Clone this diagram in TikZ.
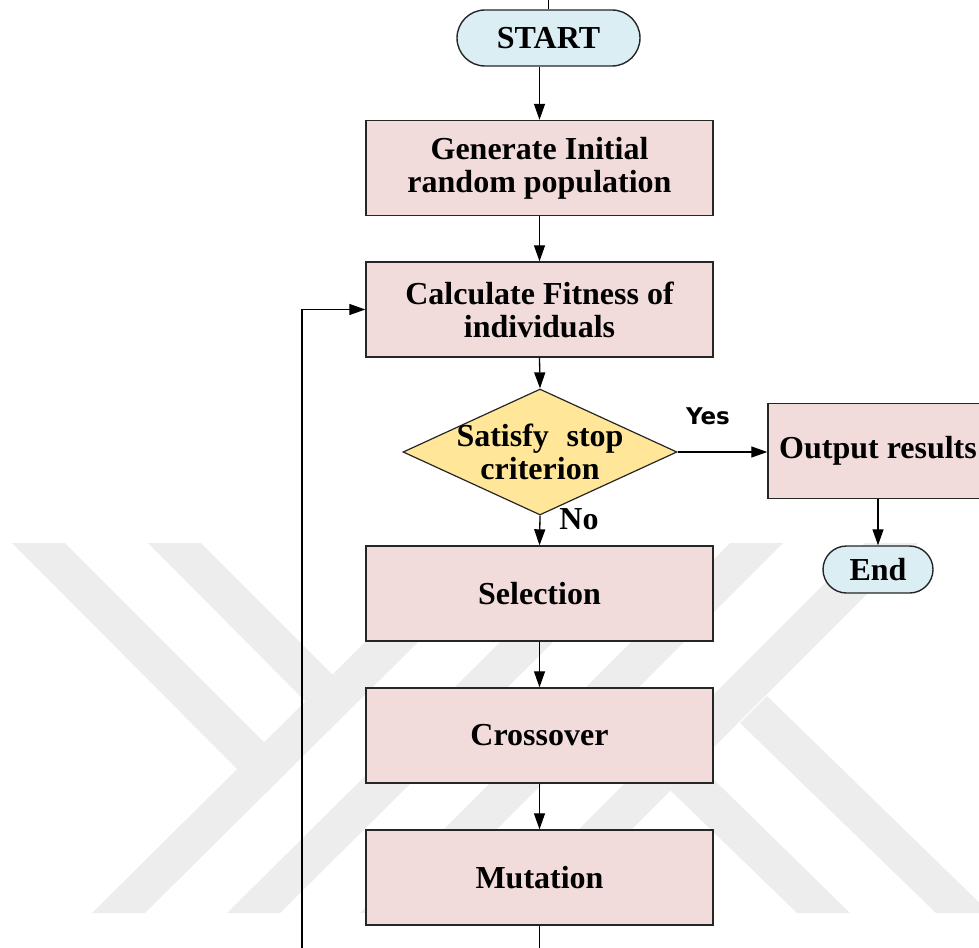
\documentclass[tikz,border=0pt]{standalone}
\usepackage{fontspec}
\setmainfont{Liberation Serif}
\newfontfamily\yesfont{DejaVu Sans}
\usetikzlibrary{arrows.meta,shapes.geometric,shapes.misc}
\definecolor{boxfill}{HTML}{F2DCDB}
\definecolor{decfill}{HTML}{FFE699}
\definecolor{termfill}{HTML}{DAEEF3}
\definecolor{wmark}{HTML}{EDEDED}
\definecolor{edge}{HTML}{262626}
\begin{document}
\begin{tikzpicture}[x=1pt,y=-1pt,
  procbox/.style={draw=edge, line width=1.4pt, fill=boxfill, minimum width=347pt, minimum height=95pt, inner sep=0pt, align=center, font=\bfseries\fontsize{32}{33}\selectfont},
  termbox/.style={rounded rectangle, draw=edge, line width=1.4pt, fill=termfill, inner sep=0pt, font=\bfseries\fontsize{32}{33}\selectfont},
  decbox/.style={diamond, draw=edge, line width=1.2pt, fill=decfill, inner sep=0pt, minimum width=274pt, minimum height=126pt},
  lbl/.style={font=\bfseries\fontsize{32}{33}\selectfont, align=center, inner sep=0pt},
  yeslbl/.style={font=\yesfont\bfseries\fontsize{23}{23}\selectfont, inner sep=0pt},
  arr/.style={draw=black, line width=1.3pt, -{Triangle[length=16pt,width=11pt]}},
  conn/.style={draw=black, line width=1.3pt},
  wm/.style={fill=wmark, draw=none}]

\useasboundingbox (0,0) rectangle (979,947);
\clip (0,0) rectangle (979,947);

% watermark
\fill[wm] (92,913) -- (145,913) -- (515,546) -- (462,546) -- cycle;
\fill[wm] (227,913) -- (280,913) -- (650,546) -- (597,546) -- cycle;
\fill[wm] (360,913) -- (413,913) -- (783,543) -- (730,543) -- cycle;
\fill[wm] (495,913) -- (548,913) -- (918,543) -- (865,543) -- cycle;
\fill[wm] (12,543) -- (65,543) -- (266,744) -- (239,771) -- cycle;
\fill[wm] (148,543) -- (201,543) -- (334,676) -- (307,703) -- cycle;
\fill[wm] (740,723) -- (767,696) -- (990,913) -- (936,913) -- cycle;
\fill[wm] (670,790) -- (697,763) -- (850,913) -- (797,913) -- cycle;

% nodes
\node[termbox, minimum width=183pt, minimum height=56pt] (start) at (548.5,38) {START};
\coordinate (tick) at (548.5,-5);
\node[procbox] (gen) at (539.5,168) {Generate Initial\\random population};
\node[procbox] (calc) at (539.5,309.5) {Calculate Fitness of\\individuals};
\node[decbox] (dec) at (540,452) {};
\node[lbl] (dectext) at (dec) {Satisfy\hspace{0.55em}stop\\criterion};
\node[procbox, minimum width=220pt] (out) at (878,451) {Output results};
\node[termbox, minimum width=110pt, minimum height=47pt] (end) at (878,569.5) {End};
\node[procbox] (sel) at (539.5,593.5) {Selection};
\node[procbox] (cro) at (539.5,735.5) {Crossover};
\node[procbox] (mut) at (539.5,877.5) {Mutation};
\node[yeslbl] (yes) at (708,416) {Yes};
\node[lbl] (no) at (579,519) {No};
\coordinate (fbl) at (302,990);

% connectors
\draw[conn] (start.north) -- (tick);
\draw[arr] (gen.north |- start.south) -- (gen.north);
\draw[arr] (gen.south) -- (calc.north);
\draw[arr] (calc.south) -- (dec.north);
\draw[arr] (dec.east) -- (out.west |- dec.east);
\draw[arr] (out.south) -- (end.north);
\draw[arr] (dec.south) -- (sel.north);
\draw[arr] (sel.south) -- (cro.north);
\draw[arr] (cro.south) -- (mut.north);
\draw[arr] (mut.south) |- (fbl) |- (calc.west);
\end{tikzpicture}
\end{document}
